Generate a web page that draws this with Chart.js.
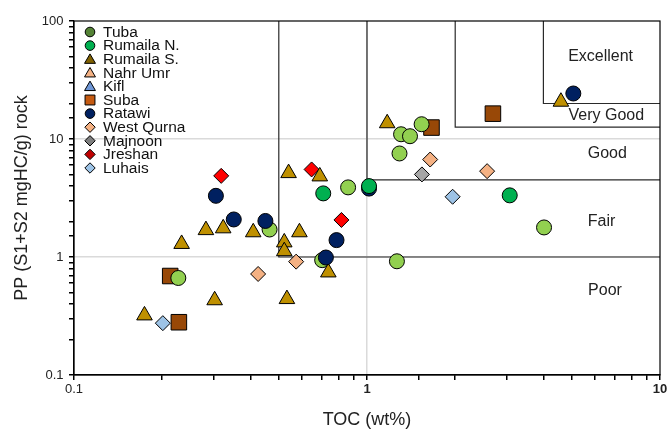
<!DOCTYPE html>
<html><head><meta charset="utf-8">
<script src="https://cdn.jsdelivr.net/npm/chart.js"></script>
<style>html,body{margin:0;padding:0;background:#fff}#wrap{width:672px;height:431px;position:relative}</style>
</head><body><div id="wrap"><canvas id="c"></canvas></div>
<script>
// ---- data ----
const seriesNames = ['Tuba','Rumaila N.','Rumaila S.','Nahr Umr','Kifl','Suba','Ratawi','West Qurna','Majnoon','Jreshan','Luhais'];
const tubaTOC = [0.227, 0.465, 0.703, 0.862, 1.265, 1.307, 1.402, 1.536, 1.291, 4.02];
const tubaPP  = [0.664, 1.71, 0.94, 3.89, 0.92, 10.97, 10.56, 13.34, 7.54, 1.78];
const rumNTOC = [0.709, 1.016, 3.07];
const rumNPP  = [3.46, 3.99, 3.33];
const rumSTOC = [0.174, 0.302, 0.233, 0.282, 0.323, 0.409, 0.522, 0.522, 0.588, 0.533, 0.738, 0.54, 0.69, 1.172, 4.59];
const rumSPP  = [0.32, 0.43, 1.29, 1.69, 1.75, 1.62, 1.33, 1.12, 1.62, 0.44, 0.74, 5.14, 4.82, 13.6, 20.7];
const nahrTOC = [];
const nahrPP  = [];
const kiflTOC = [];
const kiflPP  = [];
const subaTOC = [0.213, 0.228, 1.66, 2.69];
const subaPP  = [0.69, 0.28, 12.5, 16.4];
const ratTOC  = [0.305, 0.351, 0.45, 0.787, 0.724, 1.016, 5.06];
const ratPP   = [3.30, 2.08, 2.02, 1.39, 0.99, 3.8, 24.3];
const wqTOC   = [0.425, 0.573, 1.643, 2.57];
const wqPP    = [0.718, 0.913, 6.7, 5.34];
const majTOC  = [1.54];
const majPP   = [5.01];
const jreTOC  = [0.318, 0.647, 0.818];
const jrePP   = [4.87, 5.52, 2.06];
const luhTOC  = [1.96, 0.201];
const luhPP   = [3.24, 0.275];
const xTickLabels = ['0.1', '1', '10'];
const yTickLabels = ['0.1', '1', '10', '100'];
const classNames = ['Poor', 'Fair', 'Good', 'Very Good', 'Excellent'];
const classTOC = [0.5, 1, 2, 4];      // lower TOC bound of Fair..Excellent
const classPP  = [1, 4.5, 12.6, 20];  // lower PP bound of Fair..Excellent

// ---- styles ----
const FONT = '"Liberation Sans", Arial, Helvetica, sans-serif';
const styles = [
  {shape:'circle',   fill:'#92d050', legend:'#548235', r:7.5, lr:4.8, order:4},
  {shape:'circle',   fill:'#00b050', legend:'#00b050', r:7.5, lr:4.8, order:1},
  {shape:'triangle', fill:'#bf9000', legend:'#7f6000', r:9,   lr:6.3, order:3},
  {shape:'triangle', fill:'#f4b183', legend:'#f4b183', r:9,   lr:6.3, order:8},
  {shape:'triangle', fill:'#6f97d6', legend:'#6f97d6', r:9,   lr:6.3, order:8},
  {shape:'rect',     fill:'#984807', legend:'#c55a11', r:11,  lr:7,   order:5},
  {shape:'circle',   fill:'#002060', legend:'#002060', r:7.5, lr:4.8, order:2},
  {shape:'rectRot',  fill:'#f4b183', legend:'#f4b183', r:7.5, lr:5.2, order:6},
  {shape:'rectRot',  fill:'#a6a6a6', legend:'#7f7f7f', r:7.5, lr:5.2, order:6},
  {shape:'rectRot',  fill:'#ff0000', legend:'#c00000', r:7.5, lr:5.2, order:7},
  {shape:'rectRot',  fill:'#9dc3e6', legend:'#9dc3e6', r:7.5, lr:5.2, order:6}
];
const xs = [tubaTOC, rumNTOC, rumSTOC, nahrTOC, kiflTOC, subaTOC, ratTOC, wqTOC, majTOC, jreTOC, luhTOC];
const ys = [tubaPP, rumNPP, rumSPP, nahrPP, kiflPP, subaPP, ratPP, wqPP, majPP, jrePP, luhPP];

const datasets = seriesNames.map((name, i) => ({
  label: name,
  data: xs[i].map((x, j) => ({x: x, y: ys[i][j]})),
  pointStyle: styles[i].shape,
  pointRadius: styles[i].r,
  pointHoverRadius: styles[i].r,
  backgroundColor: styles[i].fill,
  borderColor: '#000',
  borderWidth: 1,
  order: styles[i].order,
  showLine: false
}));

function isDecade(v) {
  const l = Math.log10(v);
  return Math.abs(l - Math.round(l)) < 1e-6;
}
function decadeLabel(v, labels, minExp) {
  if (!isDecade(v)) return '';
  const idx = Math.round(Math.log10(v)) - minExp;
  return labels[idx] !== undefined ? labels[idx] : '';
}

// class boxes + frame + class labels
const classPlugin = {
  id: 'classes',
  beforeDatasetsDraw(chart) {
    const {ctx, chartArea: a, scales: {x, y}} = chart;
    ctx.save();
    ctx.strokeStyle = '#2a2a2a';
    ctx.lineWidth = 1.2;
    for (let i = 0; i < classTOC.length; i++) {
      const px = x.getPixelForValue(classTOC[i]);
      const py = y.getPixelForValue(classPP[i]);
      ctx.beginPath();
      ctx.moveTo(px, a.top);
      ctx.lineTo(px, py);
      ctx.lineTo(a.right, py);
      ctx.stroke();
    }
    // frame
    ctx.strokeStyle = '#000';
    ctx.lineWidth = 1.2;
    ctx.strokeRect(a.left, a.top, a.right - a.left, a.bottom - a.top);
    // labels
    const pos = [[6.49, 0.518], [6.32, 1.99], [6.61, 7.55], [6.56, 15.9], [6.27, 49.7]];
    ctx.fillStyle = '#222';
    ctx.font = '16px ' + FONT;
    ctx.textAlign = 'center';
    ctx.textBaseline = 'middle';
    classNames.forEach((n, i) => {
      ctx.fillText(n, x.getPixelForValue(pos[i][0]), y.getPixelForValue(pos[i][1]));
    });
    ctx.restore();
  }
};

function drawMarker(ctx, shape, r, px, py) {
  if (Chart.helpers && Chart.helpers.drawPoint) {
    Chart.helpers.drawPoint(ctx, {pointStyle: shape, radius: r, rotation: 0, borderWidth: 1}, px, py);
  } else {
    ctx.beginPath(); ctx.arc(px, py, r, 0, Math.PI * 2); ctx.fill(); ctx.stroke();
  }
}

const legendPlugin = {
  id: 'customLegend',
  afterDatasetsDraw(chart) {
    const ctx = chart.ctx;
    ctx.save();
    ctx.font = '15.5px ' + FONT;
    ctx.textAlign = 'left';
    ctx.textBaseline = 'middle';
    chart.data.datasets.forEach((ds, i) => {
      const yy = 32 + 13.6 * i;
      ctx.fillStyle = styles[i].legend;
      ctx.strokeStyle = '#000';
      ctx.lineWidth = 1;
      drawMarker(ctx, styles[i].shape, styles[i].lr, 90, yy + (styles[i].shape === 'triangle' ? 1 : 0));
      ctx.fillStyle = '#111';
      ctx.fillText(ds.label, 103, yy + 0.5);
    });
    ctx.restore();
  }
};

new Chart(document.getElementById('c'), {
  type: 'scatter',
  data: {datasets: datasets},
  plugins: [classPlugin, legendPlugin],
  options: {
    responsive: true,
    maintainAspectRatio: false,
    animation: false,
    events: [],
    layout: {padding: {top: 21, right: 9, left: 0, bottom: 0}},
    plugins: {legend: {display: false}, tooltip: {enabled: false}},
    scales: {
      x: {
        type: 'logarithmic', min: 0.1, max: 10, position: 'bottom',
        afterFit: s => { s.height = 56; s.paddingRight = 0; s.paddingLeft = 0; },
        border: {color: '#000', width: 1.2},
        grid: {
          color: c => (c.tick && Math.abs(c.tick.value - 1) < 1e-9) ? '#dadada' : 'rgba(0,0,0,0)',
          lineWidth: 1.5,
          tickColor: '#000', tickLength: 5, drawTicks: true
        },
        ticks: {
          autoSkip: false, maxRotation: 0, padding: 2, color: '#222',
          font: c => ({family: FONT, size: 13, weight: (c.tick && c.tick.value >= 1) ? 'bold' : 'normal'}),
          callback: v => decadeLabel(v, xTickLabels, -1)
        },
        title: {display: true, text: 'TOC (wt%)', color: '#222', font: {family: FONT, size: 18}, padding: {top: 0, bottom: 0}}
      },
      y: {
        type: 'logarithmic', min: 0.1, max: 100, position: 'left',
        afterFit: s => { s.width = 74; s.paddingTop = 0; s.paddingBottom = 0; },
        border: {color: '#000', width: 1.2},
        grid: {
          color: c => (c.tick && (Math.abs(c.tick.value - 1) < 1e-9 || Math.abs(c.tick.value - 10) < 1e-9)) ? '#dadada' : 'rgba(0,0,0,0)',
          lineWidth: 1.5,
          tickColor: '#000', tickLength: 5, drawTicks: true
        },
        ticks: {
          autoSkip: false, padding: 5.5, color: '#222',
          font: {family: FONT, size: 13},
          callback: v => decadeLabel(v, yTickLabels, -1)
        },
        title: {display: true, text: 'PP (S1+S2 mgHC/g) rock', color: '#222', font: {family: FONT, size: 18}, padding: {top: 11, bottom: 0}}
      }
    }
  }
});
</script>
</body></html>
